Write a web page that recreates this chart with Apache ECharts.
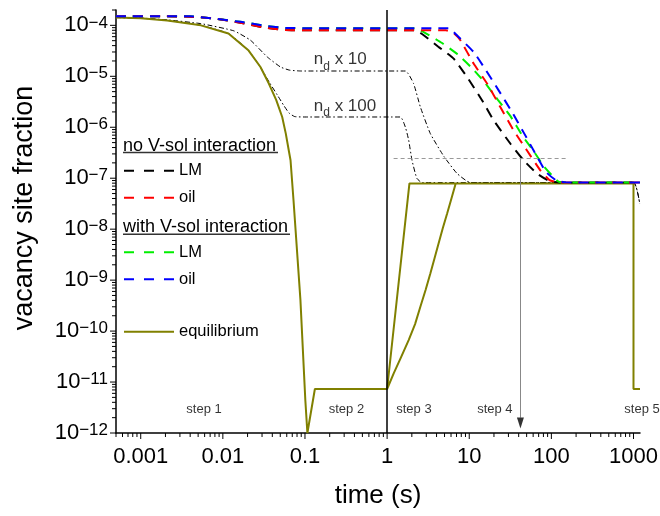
<!DOCTYPE html>
<html>
<head>
<meta charset="utf-8">
<script src="https://cdn.jsdelivr.net/npm/echarts@6/dist/echarts.min.js"></script>
<style>html,body{margin:0;padding:0;background:#fff}#c{width:660px;height:516px}</style>
</head>
<body>
<div id="c"></div>
<script>
const FONT = '"Liberation Sans", Arial, Helvetica, sans-serif';

// axis extents and tick labels
const xMin = 5e-4, xMax = 1200, yMin = 1e-12, yMax = 2e-4;
const xTickLabels = ['0.001', '0.01', '0.1', '1', '10', '100', '1000'];
const yTickExponents = ['\u221212', '\u221211', '\u221210', '\u22129', '\u22128', '\u22127', '\u22126', '\u22125', '\u22124'];

// series: [time (s), vacancy site fraction]
const noSolLM = [[5e-4,1.5e-4],[0.002,1.5e-4],[0.004,1.48e-4],[0.008,1.36e-4],[0.0164,1.12e-4],[0.033,9.0e-5],[0.058,8.1e-5],[0.1,8e-5],[2.2,8e-5],[2.79,6.4e-5],[4.2,3.8e-5],[6.46,2.22e-5],[9.4,9.7e-6],[14.3,3.4e-6],[19.8,1.37e-6],[31.6,4.8e-7],[45.9,2.25e-7],[66.8,1.24e-7],[97,8.6e-8],[140,8.2e-8],[1200,8.2e-8]];
const noSolOil = [[5e-4,1.5e-4],[0.002,1.5e-4],[0.004,1.48e-4],[0.008,1.36e-4],[0.0164,1.12e-4],[0.033,9.0e-5],[0.058,8.1e-5],[0.1,8e-5],[5.2,8e-5],[6.5,7e-5],[7.8,5.1e-5],[11.3,1.78e-5],[16.5,7.2e-6],[23.9,2.5e-6],[34.7,8.7e-7],[50.5,3.5e-7],[73.3,1.43e-7],[95,9.2e-8],[120,8.3e-8],[1200,8.2e-8]];
const solLM = [[5e-4,1.5e-4],[0.004,1.5e-4],[0.0164,1.17e-4],[0.033,9.8e-5],[0.058,8.9e-5],[0.1,8.8e-5],[2.2,8.8e-5],[2.79,7.4e-5],[4.67,4.5e-5],[7.2,2.7e-5],[11,1.41e-5],[15.3,7.7e-6],[22.2,3.5e-6],[31.6,1.67e-6],[44.7,6.7e-7],[60.8,3.4e-7],[82,1.67e-7],[122,8.6e-8],[170,8.2e-8],[1200,8.2e-8]];
const solOil = [[5e-4,1.5e-4],[0.004,1.5e-4],[0.0164,1.17e-4],[0.033,9.8e-5],[0.058,8.9e-5],[0.1,8.8e-5],[5.6,8.8e-5],[7.43,5.9e-5],[11.3,3e-5],[16,1.31e-5],[22.8,5.3e-6],[33.1,2e-6],[46.8,7.5e-7],[62,3.3e-7],[86,1.33e-7],[115,9e-8],[150,8.3e-8],[1200,8.2e-8]];
const equilibrium = [[5e-4,1.42e-4],[0.001,1.38e-4],[0.0021,1.25e-4],[0.0054,1.0e-4],[0.0117,6.9e-5],[0.0206,3.2e-5],[0.0287,1.52e-5],[0.0363,7.2e-6],[0.0447,3.4e-6],[0.0528,1.59e-6],[0.0584,7.5e-7],[0.0635,3.5e-7],[0.0667,2.25e-7],[0.0725,3.7e-8],[0.088,4.1e-10],[0.101,4.4e-12],[0.107,1e-12],[0.132,7.3e-12],[1,7.3e-12],[1.87,7.9e-8],[1000,7.9e-8],[1000,7.3e-12],[1200,7.3e-12],null,[1,7.3e-12],[1.203,1.48e-11],[1.48,3.09e-11],[1.83,6.65e-11],[2.19,1.37e-10],[2.54,3.0e-10],[2.94,6.4e-10],[3.36,1.35e-9],[3.78,2.7e-9],[4.24,5.3e-9],[4.77,1.05e-8],[5.37,2.0e-8],[6.06,3.96e-8],[6.84,7.9e-8]];
const nd10 = [[5e-4,1.43e-4],[0.001,1.39e-4],[0.0021,1.28e-4],[0.0054,1.08e-4],[0.0136,7.8e-5],[0.0217,5.1e-5],[0.0347,2.4e-5],[0.0504,1.52e-5],[0.065,1.32e-5],[0.09,1.27e-5],[1.67,1.27e-5],[2.1,7.2e-6],[2.54,2.5e-6],[3.36,7.5e-7],[4.9,2.7e-7],[7.1,1.24e-7],[10.3,8.2e-8],[1000,8.2e-8],[1190,3.2e-8]];
const nd100 = [[5e-4,1.42e-4],[0.001,1.38e-4],[0.0021,1.25e-4],[0.0054,1.0e-4],[0.0117,6.9e-5],[0.0206,3.2e-5],[0.0287,1.5e-5],[0.037,7.5e-6],[0.046,4.3e-6],[0.055,2.7e-6],[0.064,1.9e-6],[0.075,1.62e-6],[0.1,1.59e-6],[1.45,1.59e-6],[1.67,1.0e-6],[1.83,5.6e-7],[2.01,2.25e-7],[2.3,1.0e-7],[2.66,8.2e-8],[1000,8.2e-8],[1190,3.2e-8]];

// annotations
const stepNames = ['step 1', 'step 2', 'step 3', 'step 4', 'step 5'];
const stepT = [0.0059, 0.32, 2.12, 20.5, 1270];
const stepLevel = 2.96e-12;
const ndNames = ['10', '100'];
const ndT = [0.128, 0.128];
const ndLevel = [2.11e-5, 2.57e-6];
const stepBoundary = 1;
const guideLevel = 2.5e-7, guideStartT = 1.2, guideEndT = 162;
const arrowT = 42, arrowTop = 2.4e-7, arrowBottom = 2.0e-12, arrowHead = 1.57e-12;

const legendText = {noSolLM: 'LM', noSolOil: 'oil', solLM: 'LM', solOil: 'oil', equilibrium: 'equilibrium'};

// axis tick positions (decades and 2..9 subdivisions)
function logTicks(lo, hi) {
  const out = [];
  for (let e = Math.floor(Math.log10(lo)) - 1; e <= Math.ceil(Math.log10(hi)); e++) {
    for (let k = 1; k <= 9; k++) {
      const v = k * Math.pow(10, e);
      if (v >= lo * 0.9999 && v <= hi * 1.0001) out.push(v);
    }
  }
  return out;
}
const isDecade = v => { const e = Math.log10(v); return Math.abs(e - Math.round(e)) < 1e-6; };
const xTickData = logTicks(xMin, xMax).map(v => [v, yMin]);
const yTickData = logTicks(yMin, yMax).map(v => [xMin, v]);

const chart = echarts.init(document.getElementById('c'), null, {renderer: 'canvas'});

const dashed = (name, data, color) => ({
  name, type: 'line', data, symbol: 'none', smooth: 0.15, z: 4,
  lineStyle: {color, width: 2, type: [10, 7]}, itemStyle: {color}
});
const dashDot = (name, data) => ({
  name, type: 'line', data, symbol: 'none', smooth: 0.15, z: 2,
  lineStyle: {color: '#000', width: 1, type: [5, 2.5, 1.5, 2.5]}
});

const legendBase = {
  orient: 'vertical', left: 123, padding: 0, itemWidth: 50, itemHeight: 14, itemGap: 10,
  selectedMode: false,
  itemStyle: {opacity: 0, borderWidth: 0},
  textStyle: {fontSize: 16.5, color: '#000', fontFamily: FONT, lineHeight: 17},
  formatter: n => legendText[n]
};

chart.setOption({
  animation: false,
  backgroundColor: '#fff',
  textStyle: {fontFamily: FONT},
  grid: {left: 116, right: 20, top: 10, bottom: 83, containLabel: false, outerBoundsMode: 'none'},
  xAxis: {
    type: 'log', logBase: 10, min: xMin, max: xMax,
    name: 'time (s)', nameLocation: 'middle', nameGap: 50,
    nameTextStyle: {fontSize: 26, color: '#000', fontFamily: FONT},
    axisLine: {lineStyle: {color: '#000', width: 1.5}},
    axisTick: {show: false}, splitLine: {show: false}, minorTick: {show: false},
    axisLabel: {
      margin: 13, fontSize: 22, color: '#000', fontFamily: FONT,
      formatter: v => { const e = Math.log10(v), r = Math.round(e); return Math.abs(e - r) > 1e-6 ? '' : (xTickLabels[r + 3] || ''); }
    }
  },
  yAxis: {
    type: 'log', logBase: 10, min: yMin, max: yMax,
    axisLine: {lineStyle: {color: '#000', width: 1.5}},
    axisTick: {show: false}, splitLine: {show: false}, minorTick: {show: false},
    axisLabel: {
      margin: 8, color: '#000',
      formatter: v => { const e = Math.log10(v), r = Math.round(e); return Math.abs(e - r) > 1e-6 ? '' : '{b|10}{s|' + yTickExponents[r + 12] + '}'; },
      rich: {
        b: {fontSize: 22, lineHeight: 22, padding: [3, 0, 0, 0], verticalAlign: 'bottom', color: '#000', fontFamily: FONT},
        s: {fontSize: 17, lineHeight: 17, verticalAlign: 'top', color: '#000', fontFamily: FONT}
      }
    }
  },
  legend: [
    Object.assign({}, legendBase, {top: 162.2, data: ['noSolLM', 'noSolOil'], lineStyle: {type: [10, 10]}}),
    Object.assign({}, legendBase, {top: 243.8, data: ['solLM', 'solOil'], lineStyle: {type: [10, 10]}}),
    Object.assign({}, legendBase, {top: 323.2, data: ['equilibrium']})
  ],
  graphic: [
    {type: 'text', x: 123, y: 145.6, silent: true, style: {text: 'no V-sol interaction', font: '18px ' + FONT, fill: '#000', textAlign: 'left', textVerticalAlign: 'middle'}},
    {type: 'line', silent: true, shape: {x1: 123, y1: 152.5, x2: 278, y2: 152.5}, style: {stroke: '#333', lineWidth: 1.5}},
    {type: 'text', x: 123, y: 227, silent: true, style: {text: 'with V-sol interaction', font: '18px ' + FONT, fill: '#000', textAlign: 'left', textVerticalAlign: 'middle'}},
    {type: 'line', silent: true, shape: {x1: 123, y1: 234.3, x2: 290, y2: 234.3}, style: {stroke: '#333', lineWidth: 1.5}},
    {type: 'text', x: 25, y: 208, rotation: Math.PI / 2, silent: true, style: {text: 'vacancy site fraction', font: '27px ' + FONT, fill: '#000', textAlign: 'center', textVerticalAlign: 'middle'}}
  ],
  series: [
    dashDot('nd10', nd10),
    dashDot('nd100', nd100),
    {
      name: 'equilibrium', type: 'line', data: equilibrium, symbol: 'none', connectNulls: false, z: 3,
      lineStyle: {color: '#808000', width: 2}, itemStyle: {color: '#808000'},
      markLine: {
        silent: true, symbol: ['none', 'none'], animation: false, label: {show: false},
        data: [
          {xAxis: stepBoundary, lineStyle: {color: '#000', width: 1.5, type: 'solid'}},
          [{coord: [guideStartT, guideLevel], lineStyle: {color: '#999', width: 1, type: [4, 3]}}, {coord: [guideEndT, guideLevel], lineStyle: {color: '#999', width: 1, type: [4, 3]}}],
          [{coord: [arrowT, arrowTop], lineStyle: {color: '#888', width: 1, type: 'solid'}}, {coord: [arrowT, arrowBottom], lineStyle: {color: '#888', width: 1, type: 'solid'}}]
        ]
      }
    },
    dashed('noSolLM', noSolLM, '#000000'),
    dashed('solLM', solLM, '#00ee00'),
    dashed('noSolOil', noSolOil, '#ff0000'),
    dashed('solOil', solOil, '#0000ff'),
    {
      name: 'arrowHead', type: 'scatter', data: [[arrowT, arrowHead]], symbol: 'triangle', symbolRotate: 180,
      symbolSize: [7, 11], itemStyle: {color: '#000'}, silent: true, z: 6
    },
    {
      name: 'steps', type: 'scatter', clip: false, silent: true, symbolSize: 0,
      data: stepT.map(t => [t, stepLevel]),
      label: {show: true, position: 'inside', formatter: p => stepNames[p.dataIndex], fontSize: 13, color: '#000', fontFamily: FONT}
    },
    {
      name: 'ndLabels', type: 'scatter', clip: false, silent: true, symbolSize: 0,
      data: ndT.map((t, i) => [t, ndLevel[i]]),
      label: {
        show: true, position: 'right', distance: 0, align: 'left', verticalAlign: 'middle',
        formatter: p => '{n|n}{d|d}{n| x ' + ndNames[p.dataIndex] + '}',
        rich: {
          n: {fontSize: 17, lineHeight: 17, verticalAlign: 'top', color: '#000', fontFamily: FONT},
          d: {fontSize: 12, lineHeight: 12, padding: [9, 0, 0, 0], verticalAlign: 'top', color: '#000', fontFamily: FONT}
        }
      }
    },
    {
      name: 'xTicks', type: 'custom', coordinateSystem: 'cartesian2d', clip: false, silent: true, z: 10,
      data: xTickData, encode: {x: 0, y: 1},
      renderItem: (params, api) => {
        const v = api.value(0); const p = api.coord([v, yMin]);
        const len = isDecade(v) ? 6 : 4;
        return {type: 'line', shape: {x1: p[0], y1: p[1], x2: p[0], y2: p[1] + len}, style: {stroke: '#000', lineWidth: 1}};
      }
    },
    {
      name: 'yTicks', type: 'custom', coordinateSystem: 'cartesian2d', clip: false, silent: true, z: 10,
      data: yTickData, encode: {x: 0, y: 1},
      renderItem: (params, api) => {
        const v = api.value(1); const p = api.coord([xMin, v]);
        const len = isDecade(v) ? 6 : 4;
        return {type: 'line', shape: {x1: p[0], y1: p[1], x2: p[0] - len, y2: p[1]}, style: {stroke: '#000', lineWidth: 1}};
      }
    }
  ]
});
</script>
</body>
</html>
